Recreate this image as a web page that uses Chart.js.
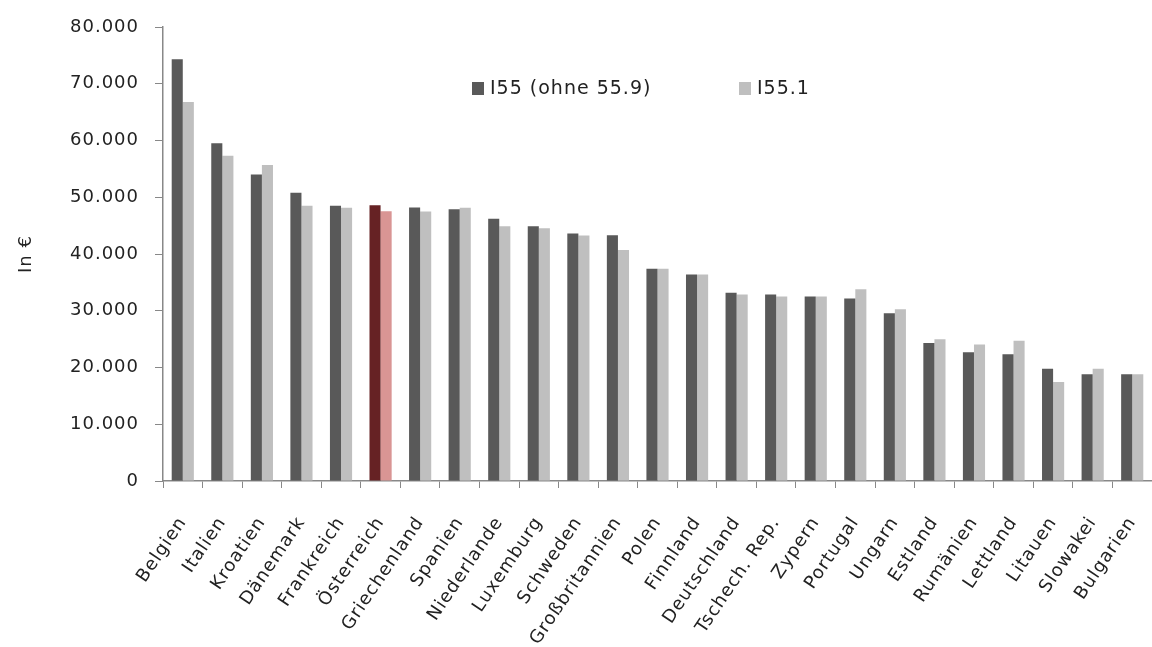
<!DOCTYPE html>
<html>
<head>
<meta charset="utf-8">
<script src="https://cdn.jsdelivr.net/npm/chart.js@4/dist/chart.umd.min.js"></script>
<style>
  html, body { margin: 0; padding: 0; background: #fff; }
  #wrap { width: 1152px; height: 647px; }
</style>
</head>
<body>
<div id="wrap"><canvas id="chart" width="1152" height="647"></canvas></div>
<script>
// data
const countries = ["Belgien", "Italien", "Kroatien", "Dänemark", "Frankreich", "Österreich",
  "Griechenland", "Spanien", "Niederlande", "Luxemburg", "Schweden", "Großbritannien",
  "Polen", "Finnland", "Deutschland", "Tschech. Rep.", "Zypern", "Portugal", "Ungarn",
  "Estland", "Rumänien", "Lettland", "Litauen", "Slowakei", "Bulgarien"];
const i55 = [74300, 59500, 54000, 50800, 48500, 48600, 48200, 47900, 46200, 44900, 43600, 43300,
  37400, 36400, 33150, 32850, 32500, 32150, 29550, 24300, 22700, 22350, 19800, 18800, 18800];
const i551 = [66800, 57300, 55700, 48500, 48150, 47550, 47500, 48150, 44900, 44550, 43250, 40700,
  37400, 36400, 32850, 32500, 32500, 33800, 30250, 25000, 24050, 24700, 17450, 19800, 18800];
const seriesNames = ["I55 (ohne 55.9)", "I55.1"];
const highlight = "Österreich";

const FONT = "'DejaVu Sans', sans-serif";
const darkCol = countries.map(c => c === highlight ? "#662224" : "#595959");
const lightCol = countries.map(c => c === highlight ? "#d99594" : "#bfbfbf");

function fmt(v) {
  return String(v).replace(/\B(?=(\d{3})+(?!\d))/g, ".");
}

// the original font is a wide one, so spread the letters a bit
const wideText = {
  id: "wideText",
  beforeDraw(chart) { chart.ctx.letterSpacing = "1px"; }
};

// legend drawn inside the plot area, like the original
const innerLegend = {
  id: "innerLegend",
  afterDraw(chart) {
    const ctx = chart.ctx;
    const spots = [[472, 88], [739, 88]];
    ctx.save();
    ctx.font = "19px " + FONT;
    ctx.letterSpacing = "1px";
    ctx.textBaseline = "middle";
    chart.data.datasets.forEach((ds, i) => {
      const [x, y] = spots[i];
      ctx.fillStyle = ds.legendColor;
      ctx.fillRect(x, y - 6, 12, 13);
      ctx.fillStyle = "#222";
      ctx.fillText(ds.label, x + 18, y + 1);
    });
    ctx.restore();
  }
};

new Chart(document.getElementById("chart"), {
  type: "bar",
  data: {
    labels: countries,
    datasets: [
      { label: seriesNames[0], data: i55, backgroundColor: darkCol, legendColor: "#595959" },
      { label: seriesNames[1], data: i551, backgroundColor: lightCol, legendColor: "#bfbfbf" }
    ]
  },
  options: {
    responsive: false,
    animation: false,
    layout: { padding: { top: 27, right: 0, left: 0, bottom: 0 } },
    datasets: { bar: { barPercentage: 1, categoryPercentage: 0.56 } },
    plugins: { legend: { display: false }, tooltip: { enabled: false } },
    scales: {
      x: {
        grid: { display: true, drawOnChartArea: false, color: "#888", tickLength: 7, offset: true },
        border: { color: "#888", width: 1.5 },
        ticks: {
          color: "#222", font: { family: FONT, size: 18 },
          minRotation: 56, maxRotation: 56, autoSkip: false, padding: 25
        },
        afterFit(scale) {
          scale.height = 166;
          scale.paddingLeft = 0;
          scale.paddingRight = 0;
        }
      },
      y: {
        min: 0, max: 80000,
        grid: { display: true, drawOnChartArea: false, color: "#888", tickLength: 8 },
        border: { color: "#888", width: 1.5 },
        ticks: {
          stepSize: 10000, color: "#222", font: { family: FONT, size: 18 }, padding: 16,
          callback: v => fmt(v)
        },
        title: { display: true, text: "In €", color: "#222", font: { family: FONT, size: 18 }, padding: { top: 16, bottom: 0 } },
        afterFit(scale) { scale.width = 163; }
      }
    }
  },
  plugins: [wideText, innerLegend]
});
</script>
</body>
</html>
